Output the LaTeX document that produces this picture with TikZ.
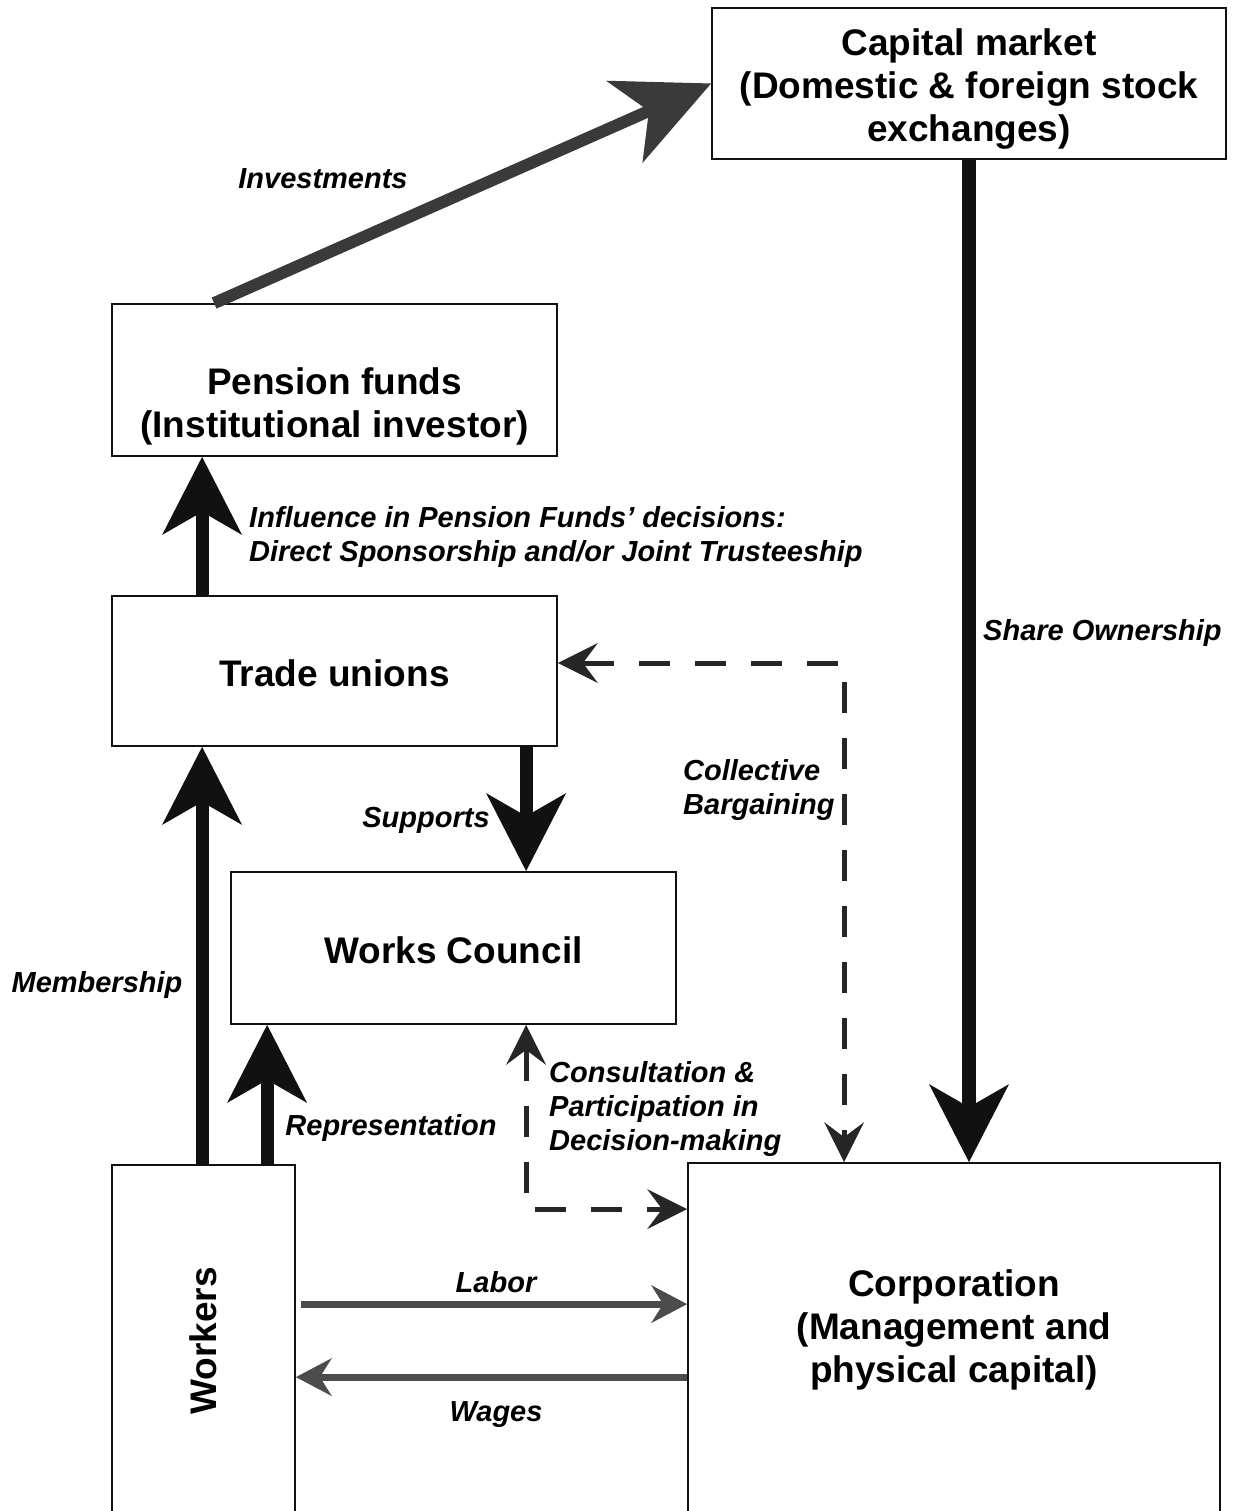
\documentclass[tikz,border=0pt]{standalone}
\usepackage{fontspec}
\setmainfont{Liberation Sans}
\usetikzlibrary{arrows.meta,calc}
\definecolor{ink}{HTML}{111111}
\definecolor{investgray}{HTML}{3A3A3A}
\definecolor{flowgray}{HTML}{4C4C4C}
\definecolor{dashgray}{HTML}{262626}
\begin{document}
\begin{tikzpicture}[x=1pt,y=-1pt,
  box/.style={draw=ink, line width=1.8pt, inner sep=0pt, align=center,
    font=\fontsize{37}{43}\selectfont\bfseries},
  boxtext/.style={inner sep=0pt, align=center, font=\fontsize{37}{43}\selectfont\bfseries},
  lbl/.style={inner sep=0pt, font=\fontsize{29}{34}\selectfont\bfseries\itshape},
  bigarrow/.style={draw=ink, line width=13pt,
    -{Stealth[length=78pt,width=80pt,inset=23pt,line width'=0pt]}},
  investarrow/.style={draw=investgray, line width=12pt,
    -{Stealth[length=95pt,width=90pt,inset=27pt,line width'=0pt,fill=investgray]}},
  flowarrow/.style={draw=flowgray, line width=7pt,
    -{Stealth[length=36pt,width=38pt,inset=12pt,line width'=0pt,fill=flowgray]}},
  dasharrow/.style={draw=dashgray, line width=5pt, dash pattern=on 31pt off 25pt,
    {Stealth[length=40pt,width=40pt,inset=15pt,line width'=0pt]}-{Stealth[length=40pt,width=40pt,inset=15pt,line width'=0pt]}}
]
\useasboundingbox (0,0) rectangle (1235,1511);
\clip (0,0) rectangle (1235,1511);

% boxes
\node[box, minimum width=514pt, minimum height=151pt] (cap) at (969,83.5)
  {\rule{0pt}{38pt}Capital market\\(Domestic \& foreign stock\\exchanges)};
\node[box, minimum width=445pt, minimum height=152pt] (pension) at (334.5,380) {};
\node[boxtext] (pensiontext) at (334.5,406) {Pension funds\\(Institutional investor)};
\node[box, minimum width=445pt, minimum height=150pt] (tu) at (334.5,671)
  {\rule{0pt}{31pt}Trade unions};
\node[box, minimum width=445pt, minimum height=152pt] (wc) at (453.5,948)
  {\rule{0pt}{31pt}Works Council};
\node[box, minimum width=183pt, minimum height=352pt] (workers) at (203.5,1341)
  {\rotatebox{90}{Workers}};
\node[box, minimum width=532pt, minimum height=377pt] (corp) at (954,1351.5) {};
\node[boxtext] (corptext) at (954,1330)
  {Corporation\\(Management and\\physical capital)};

% solid connectors
\draw[investarrow] ($(pension.north west)+(103,0)$) -- (cap.west);
\draw[bigarrow] ($(tu.north west)+(91,0)$) -- ($(pension.south west)+(91,0)$);
\draw[bigarrow] ($(workers.north west)+(91,0)$) -- ($(tu.south west)+(91,0)$);
\draw[bigarrow] ($(workers.north west)+(156,0)$) -- ($(wc.south west)+(37,0)$);
\draw[bigarrow] ($(tu.south west)+(415,0)$) -- ($(wc.north west)+(296,0)$);
\draw[bigarrow, line width=14pt] (cap.south) -- (cap.south |- corp.north);
\draw[flowarrow] ($(workers.north east)+(5,140)$) -- ($(corp.north west)+(0,142)$);
\draw[flowarrow] ($(corp.north west)+(0,215)$) -- ($(workers.north east)+(0,213)$);

% dashed connectors
\draw[dasharrow] ($(tu.east)+(0,-8)$) -| ($(corp.north west)+(157,0)$);
\draw[dasharrow] ($(wc.south west)+(296,0)$) |- ($(corp.north west)+(0,47)$);

% labels
\node[lbl] (invlbl) at (323,179) {Investments};
\node[lbl, anchor=west, align=left] (inflbl) at (249,536.5)
  {Influence in Pension Funds’ decisions:\\Direct Sponsorship and/or Joint Trusteeship};
\node[lbl, anchor=west] (sharelbl) at (983,633) {Share Ownership};
\node[lbl, anchor=west, align=left] (cblbl) at (683,790) {Collective\\Bargaining};
\node[lbl] (suplbl) at (426,820) {Supports};
\node[lbl] (memlbl) at (97,985) {Membership};
\node[lbl] (replbl) at (391,1128) {Representation};
\node[lbl, anchor=west, align=left] (conslbl) at (549,1109)
  {Consultation \&\\Participation in\\Decision-making};
\node[lbl] (laborlbl) at (496,1282) {Labor};
\node[lbl] (wageslbl) at (496,1415) {Wages};
\end{tikzpicture}
\end{document}
